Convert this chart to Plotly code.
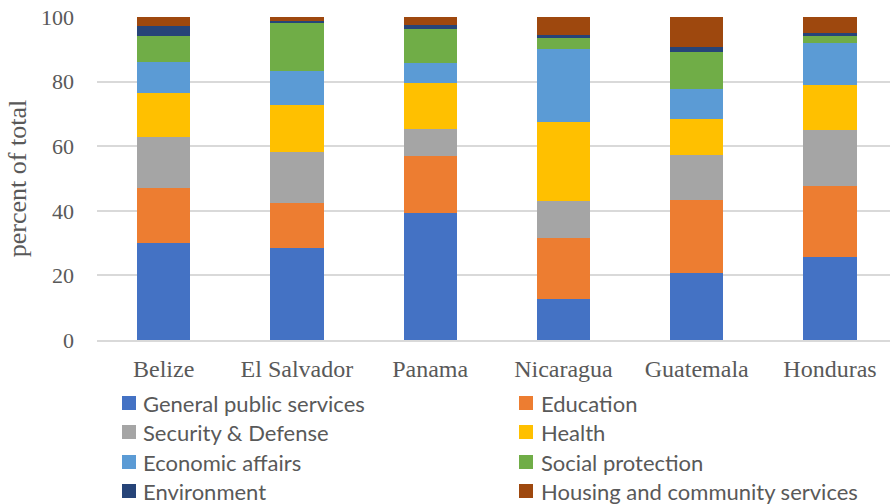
import plotly.graph_objects as go

countries = ["Belize", "El Salvador", "Panama", "Nicaragua", "Guatemala", "Honduras"]

general_public_services = [29.9, 28.4, 39.2, 12.8, 20.8, 25.8]
education = [17.1, 13.9, 17.7, 18.7, 22.6, 22.0]
security_defense = [15.8, 16.0, 8.3, 11.6, 13.9, 17.3]
health = [13.8, 14.4, 14.4, 24.5, 11.2, 13.7]
economic_affairs = [9.4, 10.6, 6.1, 22.4, 9.1, 13.2]
social_protection = [8.2, 14.9, 10.6, 3.6, 11.7, 2.4]
environment = [2.9, 0.6, 1.1, 0.7, 1.3, 0.5]
housing_community = [2.9, 1.2, 2.6, 5.7, 9.4, 5.1]

series_names = [
    "General public services", "Education", "Security & Defense", "Health",
    "Economic affairs", "Social protection", "Environment",
    "Housing and community services",
]
series_values = [
    general_public_services, education, security_defense, health,
    economic_affairs, social_protection, environment, housing_community,
]
series_colors = [
    "#4472C4", "#ED7D31", "#A5A5A5", "#FFC000",
    "#5B9BD5", "#70AD47", "#264478", "#9E480E",
]

W, H = 890, 504
M_L, M_R, M_T, M_B = 97, 0, 17, 164
PLOT_W = W - M_L - M_R
PLOT_H = H - M_T - M_B


def px_x(px):
    return (px - M_L) / PLOT_W


def px_y(py):
    return (H - M_B - py) / PLOT_H


fig = go.Figure()
for name, vals, color in zip(series_names, series_values, series_colors):
    fig.add_trace(go.Bar(
        x=countries, y=vals, name=name,
        marker=dict(color=color, line=dict(width=0)),
        width=0.4, showlegend=False,
    ))

# Two-column legend below the plot
col_swatch = [122, 519]
col_text = [141, 539]
row_y = [403, 432, 462, 491]
SW = 14
shapes, annotations = [], []
for i, (name, color) in enumerate(zip(series_names, series_colors)):
    c, r = i % 2, i // 2
    cy = row_y[r]
    shapes.append(dict(
        type="rect", xref="paper", yref="paper",
        x0=px_x(col_swatch[c]), x1=px_x(col_swatch[c] + SW),
        y0=px_y(cy + SW / 2), y1=px_y(cy - SW / 2),
        fillcolor=color, line=dict(width=0),
    ))
    annotations.append(dict(
        xref="paper", yref="paper", x=px_x(col_text[c]), y=px_y(cy),
        xanchor="left", yanchor="middle", showarrow=False, text=name,
        font=dict(family="Lato", size=22, color="#595959"),
    ))

fig.update_layout(
    barmode="stack",
    width=W, height=H,
    margin=dict(l=M_L, r=M_R, t=M_T, b=M_B, autoexpand=False),
    paper_bgcolor="white", plot_bgcolor="white",
    font=dict(family="Liberation Serif", color="#595959", size=22),
    showlegend=False,
    shapes=shapes,
    annotations=annotations,
    xaxis=dict(
        range=[-0.5, 5.45],
        showline=True, linecolor="#d9d9d9", linewidth=1.5,
        ticks="", tickfont=dict(family="Liberation Serif", size=24, color="#595959"),
        ticklabelstandoff=6,
    ),
    yaxis=dict(
        range=[0, 100], tickvals=[0, 20, 40, 60, 80, 100],
        showgrid=True, gridcolor="#d9d9d9", gridwidth=1.5,
        zeroline=False, ticks="",
        tickfont=dict(family="Liberation Serif", size=22, color="#595959"),
        ticklabelstandoff=22,
        title=dict(text="percent of total",
                   font=dict(family="Liberation Serif", size=26, color="#595959"),
                   standoff=6),
    ),
)

fig.write_html("out.html")
